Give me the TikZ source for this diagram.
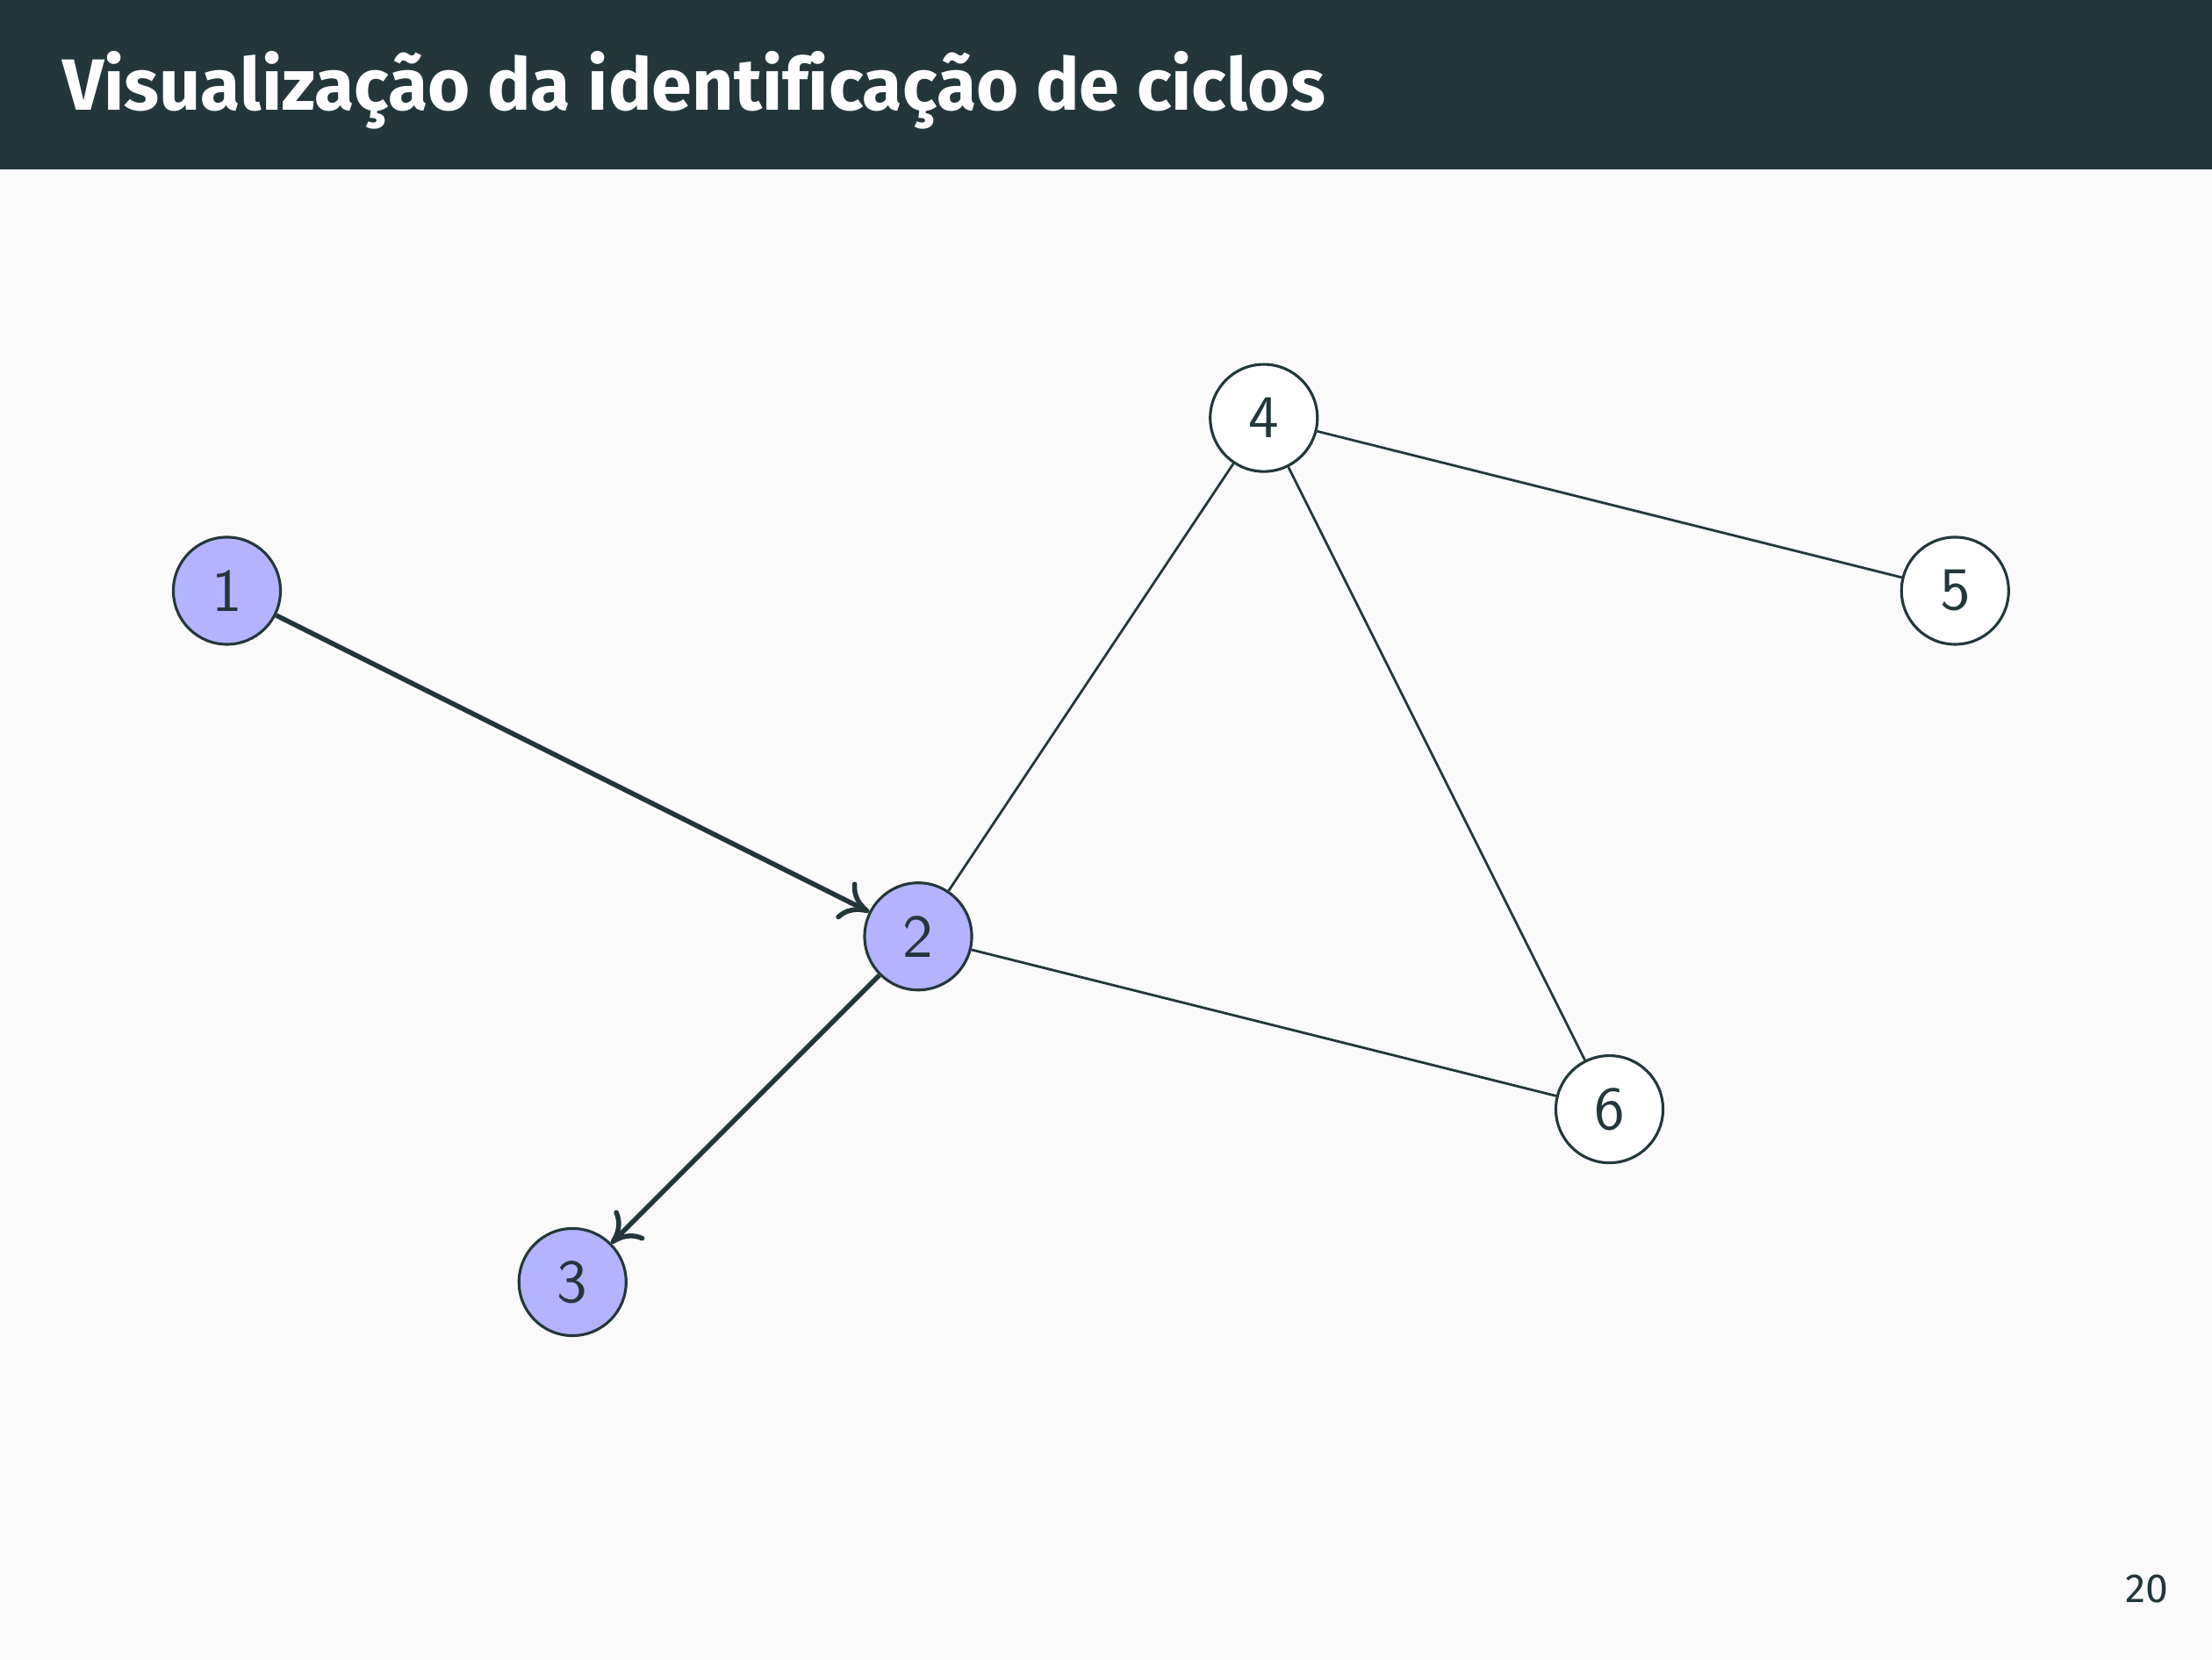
\documentclass[tikz,border=0pt]{standalone}
\usepackage{fontspec}
\setmainfont{Fira Sans}
\newfontfamily\titlefont[Ligatures=NoCommon]{Fira Sans}
\usetikzlibrary{arrows.meta}
\definecolor{mDark}{HTML}{23373B}
\definecolor{mBg}{HTML}{FAFAFA}
\definecolor{nodeblue}{HTML}{B3B3FF}
\tikzset{
  vtx/.style={circle,draw=mDark,line width=0.45pt,minimum size=6.2mm,inner sep=0pt,text=mDark,font=\sffamily\fontsize{10}{12}\selectfont,fill=white},
  visited/.style={vtx,fill=nodeblue},
  edge/.style={draw=mDark,line width=0.4pt},
  tree/.style={draw=mDark,line width=0.8pt,-{To[length=1.6mm,width=2.4mm]}}
}
\begin{document}
\begin{tikzpicture}
\useasboundingbox (0,0) rectangle (12.8,-9.6);
\fill[mBg] (0,0) rectangle (12.8,-9.6);
\fill[mDark] (0,0) rectangle (12.8,-0.98);
\node[anchor=base west,text=white,inner sep=0pt,font=\titlefont\bfseries\fontsize{11.95}{14}\selectfont] (title) at (0.355,-0.635) {Visualização da identificação de ciclos};
\node[anchor=base east,text=mDark,inner sep=0pt,font=\fontsize{6.7}{8}\selectfont] (pg) at (12.555,-9.27) {20};
\begin{scope}[shift={(1.313,-3.418)}]
\node[visited] (n1) at (0,0) {1};
\node[visited] (n2) at (4,-2) {2};
\node[visited] (n3) at (2,-4) {3};
\node[vtx] (n4) at (6,1) {4};
\node[vtx] (n5) at (10,0) {5};
\node[vtx] (n6) at (8,-3) {6};
\end{scope}
\draw[tree] (n1) -- (n2);
\draw[tree] (n2) -- (n3);
\draw[edge] (n2) -- (n4);
\draw[edge] (n2) -- (n6);
\draw[edge] (n4) -- (n5);
\draw[edge] (n4) -- (n6);
\end{tikzpicture}
\end{document}
